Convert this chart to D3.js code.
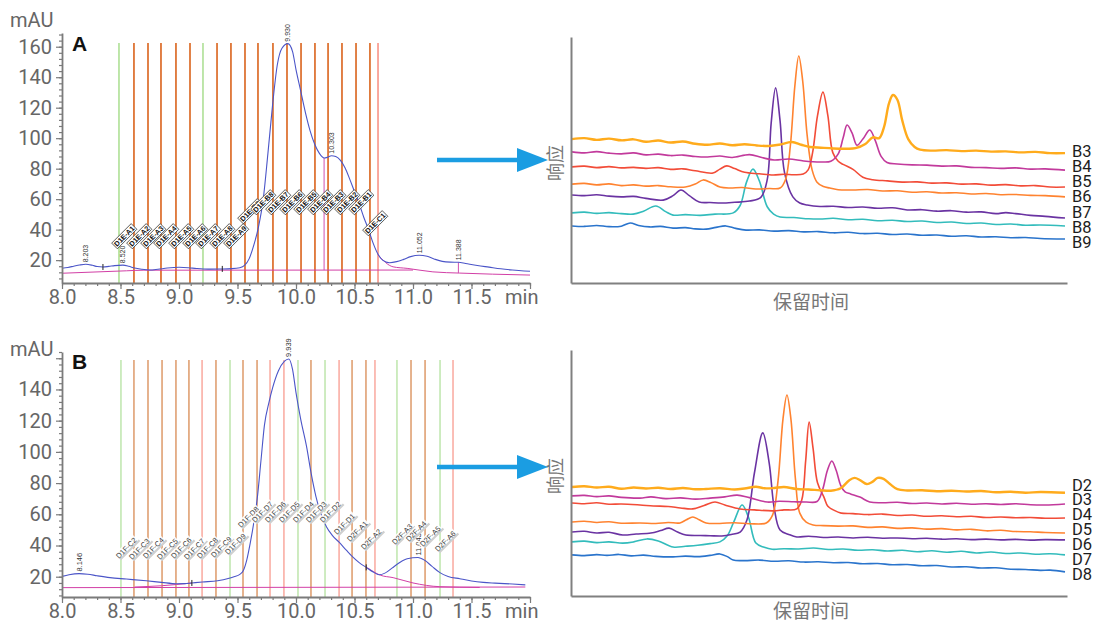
<!DOCTYPE html>
<html>
<head>
<meta charset="utf-8">
<script src="https://cdnjs.cloudflare.com/ajax/libs/d3/7.8.5/d3.min.js"></script>
<style>
  body { margin: 0; background: #fff; }
  svg { display: block; background: #fff; }
</style>
</head>
<body>
<svg id="chart" width="1095" height="623"></svg>
<script>
// ---------- data: fraction chromatograms (time in min, signal in mAU) ----------
const timeTicks = [8.0, 8.5, 9.0, 9.5, 10.0, 10.5, 11.0, 11.5, 12.0];
const mauTicksA = [20, 40, 60, 80, 100, 120, 140, 160];
const mauTicksB = [20, 40, 60, 80, 100, 120, 140, 160];

const traceA = [
  [8.00,14.7],[8.05,15.2],[8.10,16.0],[8.15,16.8],[8.203,17.3],[8.26,16.6],[8.30,15.8],[8.35,15.5],
  [8.40,15.9],[8.45,16.4],[8.52,16.7],[8.57,16.0],[8.62,14.8],[8.68,14.0],[8.75,13.5],[8.82,14.0],
  [8.90,14.8],[9.00,15.3],[9.08,15.0],[9.15,14.5],[9.25,14.1],[9.35,14.2],[9.45,14.4],[9.52,15.0],
  [9.56,16.5],[9.60,21.0],[9.64,30.0],[9.68,42.0],[9.72,60.0],[9.76,90.0],[9.80,122.0],[9.84,148.0],
  [9.88,159.0],[9.93,162.0],[9.97,157.0],[10.00,145.0],[10.04,131.0],[10.08,117.0],[10.12,105.0],
  [10.16,96.0],[10.20,90.0],[10.24,87.0],[10.27,87.5],[10.303,88.5],[10.34,88.0],[10.38,85.5],
  [10.42,80.5],[10.46,73.0],[10.50,65.0],[10.54,57.0],[10.58,48.0],[10.62,40.0],[10.66,31.0],
  [10.70,24.0],[10.74,20.0],[10.80,18.3],[10.86,19.0],[10.92,20.5],[10.98,22.3],[11.052,23.2],
  [11.12,22.5],[11.18,20.8],[11.25,19.2],[11.32,18.7],[11.388,18.6],[11.45,17.8],[11.55,16.5],
  [11.65,15.4],[11.75,14.3],[11.85,13.5],[11.95,12.9],[12.00,12.7]
];
const baselineA = [[8.00,11.4],[8.55,13.0],[8.70,13.4],[11.00,13.5]];
const tailBaselineA = [[10.70,23.5],[10.83,15.6],[10.95,14.6],[11.17,12.3],[11.40,11.5],[11.68,10.8],[12.00,10.2]];
const peaksA = [8.203, 8.520, 9.930, 10.303, 11.052, 11.388];
const dropLinesA = [10.24, 11.388];
const eventMarksA = [8.35, 9.37];

const fracTimesA = [8.487, 8.615, 8.735, 8.846, 8.974, 9.094, 9.205, 9.325, 9.444, 9.564,
  9.675, 9.803, 9.923, 10.043, 10.162, 10.274, 10.393, 10.513, 10.632, 10.701];
const fracKindsA = ["g","b","b","b","b","b","g","b","b","b","b","b","b","b","b","b","b","b","b","r"];
const fracLabelsA = ["D1E-A1","D1E-A2","D1E-A3","D1E-A4","D1E-A5","D1E-A6","D1E-A7","D1E-A8","D1E-A9",
  "D1E-B9","D1E-B8","D1E-B7","D1E-B6","D1E-B5","D1E-B4","D1E-B3","D1E-B2","D1E-B1","D1E-C1",""];

const traceB = [
  [8.00,20.2],[8.06,21.3],[8.146,22.0],[8.22,21.6],[8.30,20.6],[8.41,19.4],[8.55,18.5],[8.72,17.4],
  [8.85,16.4],[8.98,15.5],[9.05,15.6],[9.11,16.0],[9.20,16.6],[9.33,17.4],[9.42,18.8],[9.47,20.0],
  [9.52,21.5],[9.55,24.0],[9.58,31.0],[9.61,42.0],[9.64,55.0],[9.67,71.0],[9.70,94.0],[9.73,117.0],
  [9.77,132.0],[9.80,141.0],[9.85,152.0],[9.90,158.0],[9.939,159.5],[9.97,153.0],[10.00,138.0],
  [10.04,121.0],[10.09,103.5],[10.13,86.0],[10.17,71.5],[10.21,61.0],[10.26,52.0],[10.31,46.5],
  [10.37,42.0],[10.43,37.0],[10.48,33.0],[10.54,29.0],[10.60,26.0],[10.66,23.0],[10.71,21.3],
  [10.76,22.3],[10.82,25.5],[10.88,28.8],[10.95,31.5],[11.043,32.3],[11.10,30.5],[11.16,26.8],
  [11.23,22.6],[11.30,20.2],[11.40,18.7],[11.50,17.3],[11.60,16.4],[11.70,15.9],[11.85,15.3],[11.96,14.8]
];
const baselineB = [[8.00,13.0],[11.96,13.4]];
const earlyBaselineB = [[8.62,13.4],[8.85,14.2],[9.11,16.0]];
const tailBaselineB = [[10.61,25.8],[10.72,21.0],[10.83,19.4],[11.00,16.0],[11.23,13.6],[11.57,13.1]];
const peaksB = [8.146, 9.939, 11.043];
const eventMarksB = [9.11, 10.60];

const fracTimesB = [8.504, 8.615, 8.735, 8.855, 8.974, 9.085, 9.197, 9.316, 9.436, 9.547, 9.667,
  9.778, 9.897, 10.017, 10.128, 10.248, 10.368, 10.479, 10.598, 10.675, 10.863, 10.983, 11.103, 11.231, 11.342];
const fracKindsB = ["g","b","b","b","b","b","r","b","g","b","b","r","r","g","b","g","r","b","b","r","g","b","b","g","r"];
const fracLabelsB = ["D1F-C2","D1F-C3","D1F-C4","D1F-C5","D1F-C6","D1F-C7","D1F-C8","D1F-C9","D1F-D9",
  "D1F-D8","D1F-D7","D1F-D6","D1F-D5","D1F-D4","D1F-D3","D1F-D2","D1F-D1","D2F-A1","D2F-A2","",
  "D2F-A3","D2F-A4","D2F-A5","D2F-A6",""];

// ---------- data: re-injected fractions (relative retention 0-100, relative response 0-100) ----------
const namesTop = ["B3","B4","B5","B6","B7","B8","B9"];
const B3 = [[0,58.5],[2.5,58.9],[5,58.2],[7.5,58.7],[10,58.0],[12.5,58.4],[15,57.4],[17.5,57.9],[20,57.1],[22.5,57.5],
  [25,56.6],[27.5,56.2],[30,56.7],[32.5,56.0],[35,56.4],[37.5,55.9],[40,55.7],[42,56.2],[44.6,57.3],[46.5,56.2],
  [48.3,55.3],[50.5,55.0],[53,54.7],[55.5,54.6],[57.5,54.8],[59.5,56.5],[61,59.2],[62.3,58.9],[63.3,63.5],[64.3,73.0],
  [65.1,76.4],[66,74.5],[67,66],[68.2,58.5],[69.5,55.3],[70.6,54.2],[73,53.8],[76,54.0],[79,53.6],[82,53.8],[85,53.4],
  [88,53.5],[91,53.1],[94,53.3],[97,52.8],[100,52.8]];
const B4 = [[0,53.3],[2.5,52.9],[5,53.4],[7.5,52.8],[10,52.5],[12.5,52.9],[15,52.1],[17.5,52.4],[20,51.8],[22.5,52.0],
  [25,51.4],[27.5,51.2],[30,51.6],[32.5,51.0],[36,52.2],[38.5,51.0],[41,50.0],[44,50.4],[47,49.6],[50.5,49.2],
  [52.5,49.5],[54,52.5],[55,59],[55.8,64.2],[56.8,61],[57.8,56],[59,58.5],[60.4,62.2],[61.5,58],[62.7,51.5],[63.9,49.0],
  [66,48.4],[69,48.0],[72,47.9],[75,47.5],[78,47.6],[81,47.0],[84,46.9],[87,46.6],[90,46.8],[93,46.3],[96,46.4],[100,45.9]];
const B5 = [[0,47.2],[2.5,47.5],[5,46.9],[7.5,47.3],[10,46.8],[12.5,47.0],[15,46.6],[17.5,46.9],[20,46.2],[22.5,46.4],
  [25,45.6],[28.6,44.7],[30,46.3],[31.4,47.6],[33,46.5],[35,45.0],[38,44.4],[40.8,43.9],[43,44.2],[45,44.0],[46.9,44.3],
  [47.9,46],[48.8,53],[49.8,68],[50.9,77.6],[51.9,68],[52.9,53],[54,49.5],[55,48.2],[57,46.2],[59,43.0],[61,42.0],
  [64,41.5],[67,41.0],[70,41.1],[73,40.6],[76,40.7],[79,40.2],[82,40.3],[85,39.8],[88,40.0],[91,39.5],[94,39.6],[97,39.0],[100,39.0]];
const B6 = [[0,40.2],[2.5,40.5],[5,39.9],[7.5,40.3],[10,39.6],[12.5,39.9],[15,39.4],[17.5,39.6],[20,39.1],[23,39.0],
  [25,40.2],[26.6,41.9],[28.2,40.8],[30,39.0],[32,38.6],[34.5,38.8],[37.3,38.2],[40,38.4],[42.2,38.6],[43.3,42],[44.3,56],
  [45.2,80],[46.0,92.3],[46.8,82],[47.7,60],[48.7,46],[49.7,41],[51,39.2],[52.3,38.6],[54,37.9],[57,37.8],[60,38.0],
  [63,37.4],[66,37.5],[69,36.9],[72,37.1],[75,36.6],[78,36.7],[81,36.2],[84,36.4],[87,35.9],[90,36.0],[93,35.6],[96,35.5],[100,35.0]];
const B7 = [[0,35.8],[2.5,35.5],[5,35.9],[7.5,35.3],[10,35.0],[12.5,35.2],[15,34.4],[18.5,33.7],[20.5,35.5],[22.1,37.8],
  [23.8,35.5],[25.8,32.9],[28,32.7],[30.4,32.5],[33,32.8],[36,33.3],[38.3,34.8],[39.6,42],[40.4,65],[41.3,79.3],[42.2,66],
  [43.1,45],[44.8,35.0],[46.2,32.5],[47.7,31.7],[50.3,31.1],[53,31.2],[56,30.7],[59,30.9],[62,30.4],[65,30.6],[68,29.7],
  [71,29.8],[74,29.2],[77,29.4],[80,28.8],[83,28.9],[86,28.2],[88,28.6],[90,28.2],[93,27.5],[96,27.1],[100,26.4]];
const B8 = [[0,28.5],[2.5,28.8],[5,28.3],[7.5,28.6],[10,28.2],[12.4,28.0],[14.5,29.2],[17,31.3],[19,29.0],[20.5,27.6],
  [23,27.8],[26,27.5],[29,28.0],[32.7,28.5],[34.1,31.5],[35.4,41],[36.7,46.3],[38,41.5],[39.6,31],[40.9,28],[42.2,26.8],
  [45,26.6],[48,26.1],[50.3,26.0],[53,26.3],[56,25.7],[59,25.9],[62,25.3],[65,25.5],[68,25.0],[71,25.2],[74,24.6],
  [77,24.8],[80,24.2],[83,24.4],[86,23.8],[89,24.0],[92,23.5],[95,23.6],[100,23.2]];
const B9 = [[0,23.2],[2.5,23.0],[5,23.4],[7.5,22.9],[10,23.1],[11.8,24.4],[13.5,23.4],[15.8,22.8],[18,23.0],[20.5,22.3],
  [23,22.5],[25,22.0],[27.2,21.9],[29.2,22.6],[31.2,23.2],[33.2,22.2],[35.3,21.5],[38,21.6],[41,21.1],[44,21.3],[47,20.8],
  [50,20.9],[53,20.4],[56,20.6],[59,20.1],[62,20.2],[65,19.7],[68,19.9],[71,19.4],[74,19.5],[77,19.0],[80,19.2],[83,18.7],
  [86,18.8],[89,18.4],[92,18.5],[95,18.1],[100,17.9]];

const namesBottom = ["D2","D3","D4","D5","D6","D7","D8"];
const D2 = [[0,44.3],[2.5,44.6],[5,44.1],[7.5,44.4],[10,43.6],[12.5,44.1],[15,43.7],[17.5,44.0],[20,43.5],[22.5,43.9],
  [25,43.4],[27.2,43.5],[30,43.8],[33,43.3],[35,43.7],[37.3,44.4],[39,43.8],[41,43.9],[43,44.3],[45.5,43.5],[48,43.3],
  [50.3,43.0],[52.5,42.8],[54.5,43.8],[56.2,47.0],[57.3,48.0],[58.5,47.0],[59.8,45.5],[61,46.5],[62,48.0],[63.2,47.6],
  [64.5,45.5],[66,43.4],[68,42.9],[71,43.0],[74,42.6],[77,42.8],[80,42.5],[83,42.7],[86,42.2],[89,42.4],[92,42.0],[95,42.3],[100,42.0]];
const D3 = [[0,40.7],[2.5,40.9],[5,40.4],[7.5,40.7],[10,40.1],[13.8,39.8],[16,40.3],[19,39.6],[22,39.9],[25,39.4],
  [28,39.8],[31,40.3],[33.5,41.0],[36,40.0],[39.6,38.2],[42,38.5],[45,38.3],[47.5,38.2],[49.7,38.4],[50.8,43],[51.8,51],
  [52.7,54.9],[53.6,51],[54.5,45],[55.4,42.3],[56.5,41.5],[58.4,40.2],[60.4,38.2],[63,37.9],[66,38.1],[69,37.6],[72,37.8],
  [75,37.4],[78,37.7],[81,37.3],[84,37.5],[87,37.2],[90,37.5],[93,37.1],[96,37.0],[100,37.4]];
const D4 = [[0,37.8],[2.5,37.5],[5,37.9],[7.5,37.3],[10,37.4],[13.8,37.0],[16.5,36.6],[19.5,36.4],[22,35.8],[24.5,35.4],
  [26.8,36.8],[29,38.2],[31,37.0],[34.1,35.4],[37,35.0],[40.8,34.6],[43,35.0],[45.6,35.4],[46.6,39],[47.4,55],[48.1,70.7],
  [48.9,60],[49.8,46],[51.1,40.2],[51.9,36.5],[53.2,34.8],[54.6,33.7],[57,33.5],[60,33.1],[63,33.3],[66,32.7],[69,32.9],
  [72,32.4],[75,32.6],[78,32.2],[81,32.4],[84,31.9],[87,32.1],[90,31.8],[93,31.9],[96,31.6],[100,31.7]];
const D5 = [[0,30.1],[2.5,30.4],[5,29.9],[7.5,30.2],[10,29.6],[13.8,29.7],[17,29.5],[19.5,29.9],[21.9,29.7],[23.2,31.0],
  [24.5,32.1],[25.8,31.0],[27.2,29.7],[30,29.5],[33,29.8],[36,29.4],[39.4,29.7],[40.7,33],[41.8,47],[42.8,72],[43.6,81.7],
  [44.4,72],[45.3,48],[46.2,33.7],[47.5,30.0],[48.9,28.9],[51,28.6],[54,28.4],[57,28.5],[60,27.9],[63,28.1],[66,27.5],
  [69,27.7],[72,27.2],[75,27.4],[78,26.9],[81,27.1],[84,26.5],[87,26.7],[90,26.2],[93,26.1],[96,25.8],[100,25.6]];
const D6 = [[0,26.0],[2.5,26.3],[5,25.6],[7.5,25.9],[10.3,24.8],[13,25.2],[16,25.6],[18,26.6],[19.7,27.6],[21.4,26.0],
  [23.1,24.8],[26,24.6],[28,24.5],[30.4,24.4],[32.3,25.0],[34.1,26.0],[35.5,31],[37,50],[38.7,66.3],[40,54],[41,36],
  [42.2,26.8],[44,25.0],[45.6,24.0],[48,24.3],[51,23.8],[54,24.0],[57,23.6],[60,23.9],[63,23.5],[66,23.6],[69,23.3],
  [72,23.5],[75,23.1],[78,23.3],[81,22.9],[84,23.1],[87,22.8],[90,23.0],[93,22.7],[96,22.9],[100,22.8]];
const D7 = [[0,22.0],[2.5,22.3],[5,21.7],[7.5,22.0],[10.3,21.5],[12.5,22.0],[15.2,23.2],[17.5,22.4],[20.5,19.9],[23,20.2],
  [25.5,20.6],[28,21.3],[30,22.0],[31.5,24.5],[32.8,30],[34.5,37.0],[35.8,32],[37.3,21.5],[39,19.8],[40.6,19.0],[43,19.2],
  [46,19.1],[49,19.5],[52,18.9],[55,19.1],[58,18.6],[61,18.8],[64,18.3],[67,18.6],[70,18.0],[73,18.4],[76,17.8],[79,18.2],
  [82,17.5],[85,17.9],[88,17.3],[91,17.5],[94,17.0],[97,17.2],[100,16.7]];
const D8 = [[0,16.7],[2.5,16.4],[5,16.8],[7.1,16.5],[9.5,16.9],[12,16.3],[14.5,16.6],[17,16.1],[20.5,15.9],[23,16.2],
  [25.5,16.0],[28,16.5],[30,17.1],[31.5,16.0],[32.7,14.6],[35,14.4],[38,14.6],[41,14.1],[44,14.3],[47,13.8],[50,13.9],
  [53,13.5],[56,13.6],[59,13.1],[62,13.2],[65,12.7],[68,12.8],[71,12.3],[74,12.4],[77,11.8],[80,11.9],[83,11.4],[86,11.5],
  [89,10.9],[92,10.8],[95,10.4],[97,10.5],[100,9.8]];

// ---------- drawing ----------
const svg = d3.select("#chart");
const AXIS_GREY = "#7b7b7b";
const TEXT_GREY = "#666";
const fracColor = { g: "#93d572", r: "#f6705f", b: "#de7434" };
const fracColorLight = { g: "#a6dc8e", r: "#f7897b", b: "#d88a52" };

const x = d3.scaleLinear().domain([8, 12]).range([62, 530]);
const fmt3 = d3.format(".3f");
const fmt1 = d3.format(".1f");

function valueAt(trace, t) {
  const i = d3.bisector(d => d[0]).left(trace, t);
  if (i <= 0) return trace[0][1];
  if (i >= trace.length) return trace[trace.length - 1][1];
  const a = trace[i - 1], b = trace[i];
  return a[1] + (b[1] - a[1]) * (t - a[0]) / (b[0] - a[0]);
}

function drawChromatogram(cfg) {
  const g = svg.append("g");
  const y = cfg.y;
  const y0 = y.range()[0];
  const line = d3.line().x(d => x(d[0])).y(d => y(d[1])).curve(d3.curveMonotoneX);

  // fraction window markers
  cfg.fracTimes.forEach((t, i) => {
    const k = cfg.fracKinds[i];
    g.append("line")
      .attr("x1", x(t)).attr("x2", x(t))
      .attr("y1", cfg.fracTop).attr("y2", y0)
      .attr("stroke", cfg.bold ? fracColor[k] : fracColorLight[k])
      .attr("stroke-width", cfg.bold ? (k === "b" ? 1.8 : 1.2) : (k === "b" ? 1.3 : 1.1));
  });

  // integration baselines
  cfg.baselines.forEach(b => {
    g.append("path").datum(b).attr("d", line)
      .attr("fill", "none").attr("stroke", "#d23fa6").attr("stroke-width", 1);
  });

  // drop lines from the peak trace to the baseline
  (cfg.drops || []).forEach(t => {
    const base = cfg.dropBase(t);
    g.append("line")
      .attr("x1", x(t)).attr("x2", x(t))
      .attr("y1", y(valueAt(cfg.trace, t))).attr("y2", y(base))
      .attr("stroke", "#d04fb0").attr("stroke-width", 1);
  });

  // detector trace
  g.append("path").datum(cfg.trace).attr("d", line)
    .attr("fill", "none").attr("stroke", "#4b55c8").attr("stroke-width", 1.1);

  // integration event marks
  cfg.marks.forEach(t => {
    const yy = y(valueAt(cfg.trace, t));
    g.append("line").attr("x1", x(t)).attr("x2", x(t))
      .attr("y1", yy - 3).attr("y2", yy + 3)
      .attr("stroke", "#222").attr("stroke-width", 1);
  });

  // peak retention-time labels
  cfg.peaks.forEach(t => {
    const yy = y(valueAt(cfg.trace, t)) - 2;
    g.append("text")
      .attr("transform", `translate(${x(t) + 2.5},${yy}) rotate(-90)`)
      .attr("font-family", "Liberation Sans, Arial, sans-serif")
      .attr("font-size", cfg.peakFont)
      .attr("fill", "#333")
      .text(fmt3(t));
  });

  // fraction labels
  cfg.fracLabels.forEach((lab, i) => {
    if (!lab) return;
    const lx = x(cfg.fracTimes[i]) - 2;
    const ly = cfg.labelY[i];
    const lg = g.append("g").attr("transform", `translate(${lx},${ly}) rotate(-45)`);
    const txt = lg.append("text")
      .attr("font-family", "Liberation Sans, Arial, sans-serif")
      .attr("font-size", cfg.bold ? 7.2 : 7.4)
      .attr("font-weight", cfg.bold ? "bold" : "normal")
      .attr("fill", cfg.bold ? "#111" : "#3a3a3a")
      .text(lab);
    const w = txt.node().getComputedTextLength();
    if (cfg.bold) {
      lg.insert("rect", "text").attr("x", -1).attr("y", -6.5).attr("width", w + 2).attr("height", 8)
        .attr("fill", "#fff").attr("stroke", "#222").attr("stroke-width", 0.7);
    } else {
      lg.insert("rect", "text").attr("x", 0.5).attr("y", 0.2).attr("width", w + 1.5).attr("height", 2.2)
        .attr("fill", "#cfcfcf");
      lg.insert("rect", "rect").attr("x", -1).attr("y", -6.6).attr("width", w + 2).attr("height", 8)
        .attr("fill", "#fff").attr("fill-opacity", 0.9);
    }
  });

  // axes
  const minorX = d3.axisBottom(x).tickValues(d3.range(8, 12.001, 0.1)).tickSize(3).tickFormat("");
  const majorX = d3.axisBottom(x).tickValues(timeTicks).tickSize(6).tickPadding(1)
    .tickFormat(d => d >= 12 ? "" : fmt1(d));
  const minorY = d3.axisLeft(y).tickValues(d3.range(8, 169, 4).filter(v => v >= y.domain()[0] && v <= y.domain()[1]))
    .tickSize(3).tickFormat("");
  const majorY = d3.axisLeft(y).tickValues(cfg.yTicks).tickSize(6).tickPadding(4)
    .tickFormat(d => cfg.yLabels.includes(d) ? d : "");

  const gx1 = g.append("g").attr("transform", `translate(0,${y0})`).call(minorX);
  gx1.select(".domain").remove();
  const gx2 = g.append("g").attr("transform", `translate(0,${y0})`).call(majorX.tickSizeOuter(0));
  const gy1 = g.append("g").attr("transform", `translate(${x(8)},0)`).call(minorY);
  gy1.select(".domain").remove();
  const gy2 = g.append("g").attr("transform", `translate(${x(8)},0)`).call(majorY.tickSizeOuter(0));

  [gx1, gx2, gy1, gy2].forEach(a => {
    a.selectAll("line").attr("stroke", AXIS_GREY).attr("stroke-width", 1.2);
    a.selectAll(".domain").attr("stroke", AXIS_GREY).attr("stroke-width", 1.8);
    a.selectAll("text").attr("fill", TEXT_GREY).attr("font-family", "Roboto, sans-serif").attr("font-size", 20);
  });

  g.append("text").attr("x", 505).attr("y", y0 + 21)
    .attr("font-family", "Roboto, sans-serif").attr("font-size", 20).attr("fill", TEXT_GREY).text("min");
  g.append("text").attr("x", 10).attr("y", cfg.mauY)
    .attr("font-family", "Roboto, sans-serif").attr("font-size", 20).attr("fill", TEXT_GREY).text("mAU");
  g.append("text").attr("x", 72).attr("y", cfg.letterY)
    .attr("font-family", "Liberation Sans, Arial, sans-serif").attr("font-weight", "bold")
    .attr("font-size", 21).attr("fill", "#111").text(cfg.letter);
}

const yA = d3.scaleLinear().domain([5, 169]).range([283, 33]);
const yB = d3.scaleLinear().domain([7, 164]).range([597, 352]);

const labelYA = fracLabelsA.map((_, i) => i < 9 ? 247 : i === 9 ? 222 : i < 18 ? 213 : 234);
const labelYB = [559, 560, 559, 560, 559, 560, 559, 558, 555, 528, 523, 523, 523, 523, 523, 523,
  535, 542, 550, 0, 545, 542, 547, 552];

drawChromatogram({
  y: yA, trace: traceA, baselines: [baselineA, tailBaselineA],
  drops: dropLinesA, dropBase: t => t > 11 ? valueAt(tailBaselineA, t) : valueAt(baselineA, t),
  marks: eventMarksA, peaks: peaksA, peakFont: 7,
  fracTimes: fracTimesA, fracKinds: fracKindsA, fracLabels: fracLabelsA, labelY: labelYA,
  fracTop: 43, bold: true,
  yTicks: mauTicksA, yLabels: mauTicksA, mauY: 27, letter: "A", letterY: 51
});

drawChromatogram({
  y: yB, trace: traceB, baselines: [baselineB, earlyBaselineB, tailBaselineB],
  drops: [], dropBase: () => 0,
  marks: eventMarksB, peaks: peaksB, peakFont: 7.5,
  fracTimes: fracTimesB, fracKinds: fracKindsB, fracLabels: fracLabelsB, labelY: labelYB,
  fracTop: 360, bold: false,
  yTicks: mauTicksB, yLabels: mauTicksB.filter(v => v < 160), mauY: 356, letter: "B", letterY: 369
});

// ---------- stacked fraction chromatograms ----------
const stackColors = ["#ffab1c", "#c23a9c", "#f24c38", "#ff8330", "#6a33a2", "#33bcbc", "#2a74cc"];
const xR = d3.scaleLinear().domain([0, 100]).range([572, 1065]);

function drawStack(series, names, yR, labelTop, labelStep, titleY) {
  const g = svg.append("g");
  const line = d3.line().x(d => xR(d[0])).y(d => yR(d[1])).curve(d3.curveCatmullRom.alpha(0.5));
  // draw bottom traces first so upper traces sit on top
  series.slice().reverse().forEach((s, ri) => {
    const i = series.length - 1 - ri;
    g.append("path").datum(s).attr("d", line)
      .attr("fill", "none").attr("stroke", stackColors[i])
      .attr("stroke-width", i === 0 ? 2.4 : 1.6)
      .attr("stroke-linejoin", "round");
  });
  const ax = g.append("g").attr("transform", `translate(571,0)`)
    .call(d3.axisLeft(yR).tickValues([]).tickSizeOuter(0));
  const bx = g.append("g").attr("transform", `translate(0,${yR.range()[0]})`)
    .call(d3.axisBottom(d3.scaleLinear().domain([0, 1]).range([571, 1067])).tickValues([]).tickSizeOuter(0));
  [ax, bx].forEach(a => a.select(".domain").attr("stroke", "#808080").attr("stroke-width", 2));

  names.forEach((n, i) => {
    g.append("text").attr("x", 1072).attr("y", labelTop + i * labelStep)
      .attr("dominant-baseline", "central")
      .attr("font-family", "Roboto, sans-serif").attr("font-size", 16.5).attr("fill", "#1d1d1d").text(n);
  });

  const mid = (yR.range()[0] + yR.range()[1]) / 2;
  g.append("text").attr("transform", `translate(562,${mid + 3}) rotate(-90)`)
    .attr("text-anchor", "middle")
    .attr("font-family", "Noto Sans CJK SC, sans-serif").attr("font-size", 18).attr("fill", "#777").text("响应");
  g.append("text").attr("x", 811).attr("y", titleY).attr("text-anchor", "middle")
    .attr("font-family", "Noto Sans CJK SC, sans-serif").attr("font-size", 19).attr("fill", "#777").text("保留时间");
}

drawStack([B3, B4, B5, B6, B7, B8, B9], namesTop,
  d3.scaleLinear().domain([0, 100]).range([283, 37]), 151, 15.3, 309);
drawStack([D2, D3, D4, D5, D6, D7, D8], namesBottom,
  d3.scaleLinear().domain([0, 100]).range([596, 350]), 485, 14.9, 618);

// ---------- arrows linking each fractionation run to its re-analysis ----------
[160, 467].forEach(ay => {
  svg.append("line").attr("x1", 437).attr("x2", 522).attr("y1", ay).attr("y2", ay)
    .attr("stroke", "#1b9de2").attr("stroke-width", 4.5);
  svg.append("path").attr("d", `M517,${ay - 12} L548,${ay} L517,${ay + 12} Z`).attr("fill", "#1b9de2");
});
</script>
</body>
</html>
